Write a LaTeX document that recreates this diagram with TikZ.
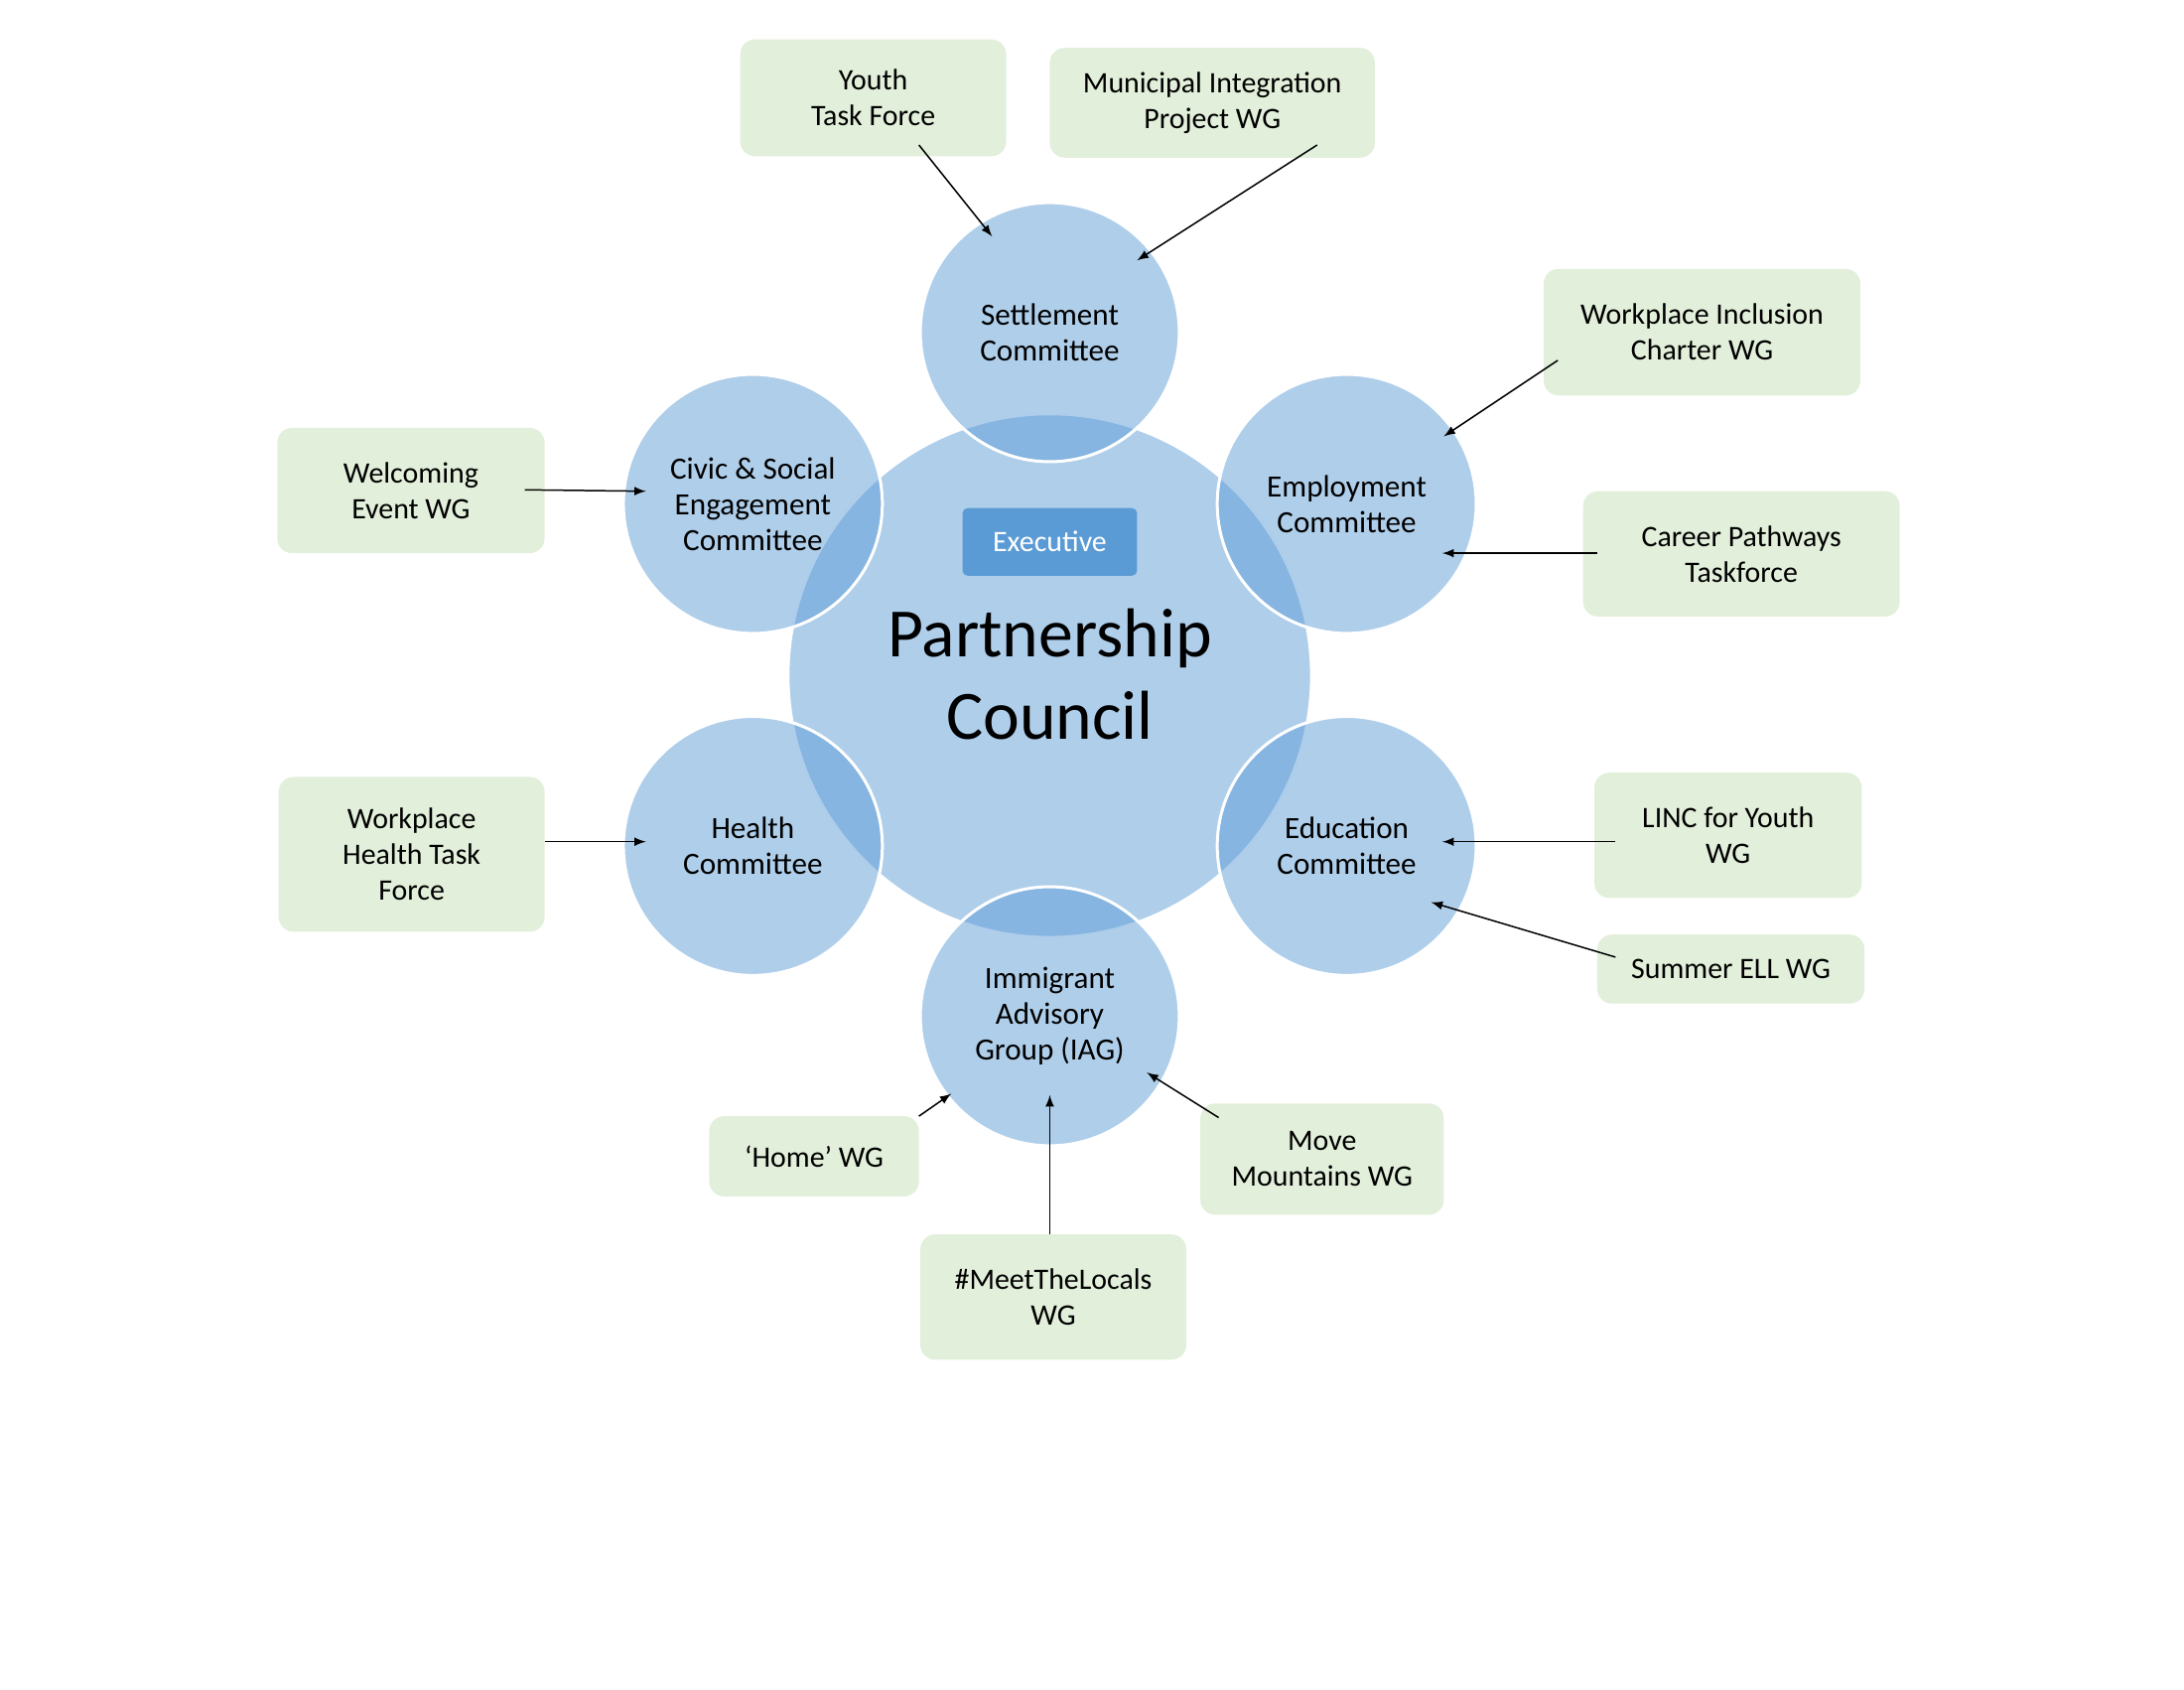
\documentclass[tikz,border=0pt]{standalone}
\usepackage{fontspec}
\setmainfont{Carlito}
\begin{document}
\begin{tikzpicture}[x=0.02cm,y=-0.02cm,
 circ/.style={circle,fill={rgb,255:red,91;green,155;blue,213},fill opacity=0.49,draw=white,line width=1.2pt,text opacity=1,align=center,font=\fontsize{12.5}{14.5}\selectfont},
 gbox/.style={rounded corners=6pt,fill={rgb,255:red,226;green,239;blue,218},align=center,font=\fontsize{12}{14.5}\selectfont},
 arr/.style={-latex,line width=0.6pt}]
\useasboundingbox (0,0) rectangle (1552,1200);
\node[circ,minimum size=372*0.02cm] (pc) at (746,480) {};
\foreach \n/\x/\y in {set/746/236, civ/535/358, emp/957/358, hea/535/601, edu/957/601, iag/746/722}
  \node[circ,minimum size=184*0.02cm] (\n) at (\x,\y) {};
\node[align=center,font=\fontsize{12.5}{14.5}\selectfont] at (746,236) {Settlement\\Committee};
\node[align=center,font=\fontsize{12.5}{14.5}\selectfont] at (535,358) {Civic \& Social\\Engagement\\Committee};
\node[align=center,font=\fontsize{12.5}{14.5}\selectfont] at (957,358) {Employment\\Committee};
\node[align=center,font=\fontsize{12.5}{14.5}\selectfont] at (535,601) {Health\\Committee};
\node[align=center,font=\fontsize{12.5}{14.5}\selectfont] at (957,601) {Education\\Committee};
\node[align=center,font=\fontsize{12.5}{14.5}\selectfont] at (746,722) {Immigrant\\Advisory\\Group (IAG)};
\node[fill={rgb,255:red,91;green,155;blue,213},text=white,rounded corners=2pt,minimum width=124*0.02cm,minimum height=48*0.02cm,font=\fontsize{12}{14}\selectfont] (ex) at (746,385) {Executive};
\node[align=center,font=\fontsize{28}{33}\selectfont] (pct) at (746,479) {Partnership\\Council};
\foreach \n/\a/\b/\c/\d/\t in {
 yt/526/28/715/111/{Youth\\Task Force},
 mi/746/34/977/112/{Municipal Integration\\Project WG},
 wi/1097/191/1322/281/{Workplace Inclusion\\Charter WG},
 cp/1125/349/1350/438/{Career Pathways\\Taskforce},
 li/1133/549/1323/638/{LINC for Youth\\WG},
 se/1135/664/1325/713/{Summer ELL WG},
 mm/853/784/1026/863/{Move\\Mountains WG},
 ml/654/877/843/966/{\#MeetTheLocals\\WG},
 ho/504/793/653/850/{‘Home’ WG},
 wh/198/552/387/662/{Workplace\\Health Task\\Force},
 we/197/304/387/393/{Welcoming\\Event WG}}
 \node[gbox,minimum width={(\c-\a)*0.02cm},minimum height={(\d-\b)*0.02cm}] (\n) at ({(\a+\c)/2},{(\b+\d)/2}) {\t};
\coordinate (s1) at (653,103); \coordinate (e1) at (705,168);
\coordinate (s2) at (936,103); \coordinate (e2) at (808,185);
\coordinate (s3) at (1107,256); \coordinate (e3) at (1026,310);
\coordinate (s4) at (1135,393); \coordinate (e4) at (1025,393);
\coordinate (s5) at (1148,598); \coordinate (e5) at (1025,598);
\coordinate (s6) at (1148,680); \coordinate (e6) at (1017,641);
\coordinate (s7) at (866,794); \coordinate (e7) at (815,762);
\coordinate (s8) at (746,877); \coordinate (e8) at (746,778);
\coordinate (s9) at (653,793); \coordinate (e9) at (676,777);
\coordinate (s10) at (387,598); \coordinate (e10) at (459,598);
\coordinate (s11) at (373,348); \coordinate (e11) at (459,349);
\foreach \i in {1,...,11} \draw[arr] (s\i) -- (e\i);
\end{tikzpicture}
\end{document}
